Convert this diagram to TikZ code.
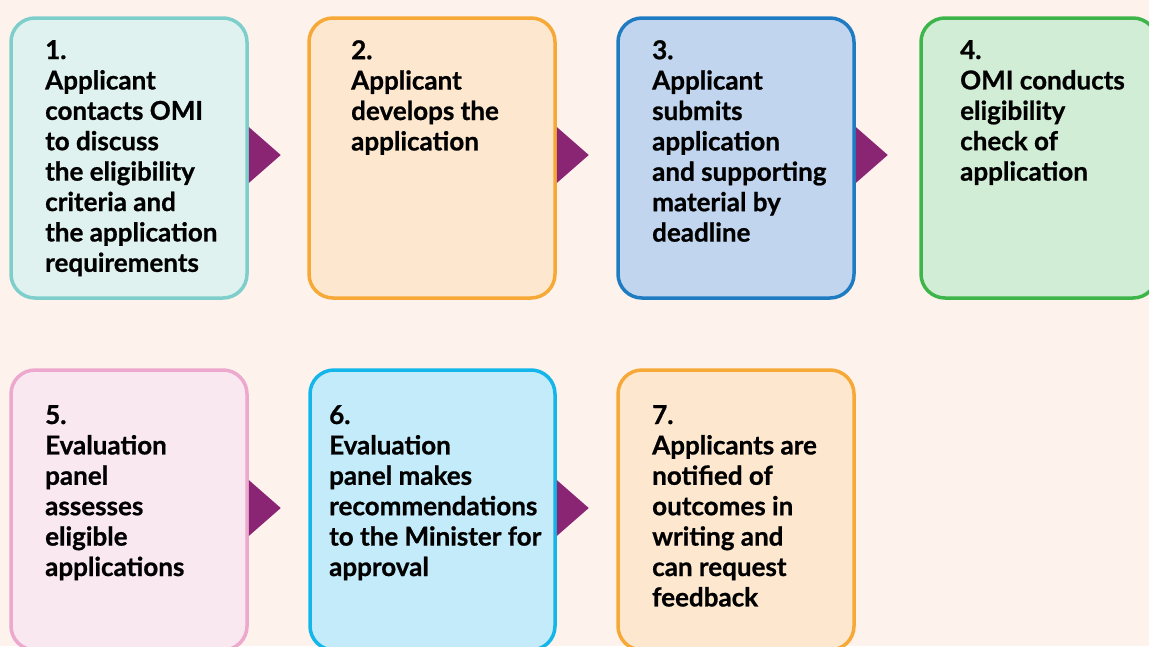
\documentclass[tikz,border=0pt]{standalone}
\usepackage{fontspec}
\setmainfont{Lato}[BoldFeatures={FakeBold=0.8}]
\definecolor{bgpeach}{HTML}{FDF2EC}
\definecolor{tealline}{HTML}{7ECFCB}
\definecolor{tealfill}{HTML}{E0F2F0}
\definecolor{orangeline}{HTML}{F6A936}
\definecolor{orangefill}{HTML}{FDE8CF}
\definecolor{blueline}{HTML}{1F7CC3}
\definecolor{bluefill}{HTML}{C1D5EE}
\definecolor{greenline}{HTML}{3DB54A}
\definecolor{greenfill}{HTML}{D2EDD5}
\definecolor{pinkline}{HTML}{EDA8CD}
\definecolor{pinkfill}{HTML}{FAE8F0}
\definecolor{cyanline}{HTML}{13B5EA}
\definecolor{cyanfill}{HTML}{C3EBF9}
\definecolor{arrowpurple}{HTML}{8A2574}
\tikzset{
  stepbox/.style 2 args={draw=#1, fill=#2, line width=3.5pt, rounded corners=24pt,
    minimum width=236pt, minimum height=280pt, inner sep=0pt},
  steptext/.style={anchor=north west, align=left, inner sep=0pt,
    font=\fontsize{26}{30.4}\selectfont\bfseries},
  tri/.style={fill=arrowpurple}
}
\begin{document}
\begin{tikzpicture}[x=1pt,y=1pt]
\useasboundingbox (0,0) rectangle (1149,-646);
\clip (0,0) rectangle (1149,-646);
\fill[bgpeach] (0,0) rectangle (1149,-646);
% boxes
\node[stepbox={tealline}{tealfill}] (b1) at (129,-158) {};
\node[stepbox={orangeline}{orangefill}, minimum width=246pt] (b2) at (432,-158) {};
\node[stepbox={blueline}{bluefill}] (b3) at (736,-158) {};
\node[stepbox={greenline}{greenfill}] (b4) at (1039,-158) {};
\node[stepbox={pinkline}{pinkfill}] (b5) at (129,-510) {};
\node[stepbox={cyanline}{cyanfill}, minimum width=245pt] (b6) at (432.5,-510) {};
\node[stepbox={orangeline}{orangefill}] (b7) at (736,-510) {};
% texts
\node[steptext] (t1) at (45,-40) {1.\\Applicant\\contacts OMI\\to discuss\\the eligibility\\criteria and\\the application\\requirements};
\node[steptext] (t2) at (351,-40) {2.\\Applicant\\develops the\\application};
\node[steptext] (t3) at (652,-40) {3.\\Applicant\\submits\\application\\and supporting\\material by\\deadline};
\node[steptext] (t4) at (960,-40) {4.\\OMI conducts\\eligibility\\check of\\application};
\node[steptext] (t5) at (45,-405) {5.\\Evaluation\\panel\\assesses\\eligible\\applications};
\node[steptext] (t6) at (329,-405) {6.\\Evaluation\\panel makes\\recommendations\\to the Minister for\\approval};
\node[steptext] (t7) at (652,-405) {7.\\Applicants are\\notified of\\outcomes in\\writing and\\can request\\feedback};
% arrows
\fill[tri] ([yshift=31pt]b1.east) -- ([xshift=32pt,yshift=3pt]b1.east) -- ([yshift=-25pt]b1.east) -- cycle;
\fill[tri] ([yshift=31pt]b2.east) -- ([xshift=32pt,yshift=3pt]b2.east) -- ([yshift=-25pt]b2.east) -- cycle;
\fill[tri] ([yshift=31pt]b3.east) -- ([xshift=32pt,yshift=3pt]b3.east) -- ([yshift=-25pt]b3.east) -- cycle;
\fill[tri] ([yshift=30pt]b5.east) -- ([xshift=32pt,yshift=2pt]b5.east) -- ([yshift=-26pt]b5.east) -- cycle;
\fill[tri] ([yshift=30pt]b6.east) -- ([xshift=32pt,yshift=2pt]b6.east) -- ([yshift=-26pt]b6.east) -- cycle;
\end{tikzpicture}
\end{document}
